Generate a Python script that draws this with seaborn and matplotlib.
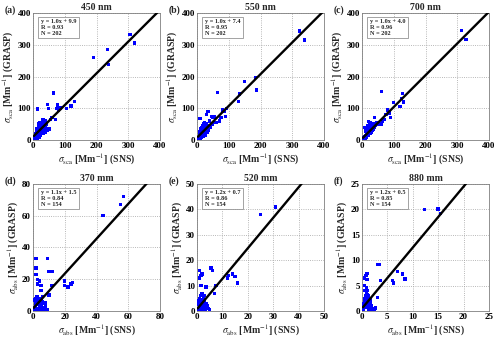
import matplotlib
matplotlib.use("Agg")
import matplotlib.pyplot as plt
import seaborn as sns
import pandas as pd
import numpy as np

sns.set_theme(style="white")
plt.rcParams['font.family'] = ['Liberation Serif', 'DejaVu Serif']
plt.rcParams['mathtext.fontset'] = 'stix'

# ---------------- data ----------------
titles = ["450 nm", "550 nm", "700 nm", "370 mm", "520 mm", "880 mm"]
panel_tags = ["(a)", "(b)", "(c)", "(d)", "(e)", "(f)"]
limits = [400, 400, 400, 80, 50, 25]
tick_steps = [100, 100, 100, 20, 10, 5]
slopes = [1.0, 1.0, 1.0, 1.1, 1.2, 1.2]
intercepts = [9.9, 7.4, 4.0, 1.5, 0.7, 0.5]
r_values = [0.93, 0.95, 0.96, 0.84, 0.86, 0.85]
n_values = [202, 202, 202, 154, 154, 154]

x_450 = [190, 235, 237, 305, 320, 130, 120, 105, 86, 78, 75, 80, 65, 45, 48, 15, 60, 70, 55, 40,
         35, 30, 28, 25, 22, 20, 18, 15, 12, 10, 8, 6, 5, 4, 3, 33, 38, 42, 27, 24, 21, 17, 14, 11, 9,
         26, 31, 36, 29, 23, 19, 16, 13, 7, 44, 50, 39, 34, 32, 20, 18, 25, 30, 12, 10]
y_450 = [260, 285, 237, 333, 305, 121, 107, 100, 101, 110, 100, 95, 148, 112, 100, 98, 70, 65, 65, 60,
         55, 50, 45, 40, 35, 30, 25, 20, 15, 12, 10, 8, 5, 3, 2, 30, 40, 50, 20, 15, 10, 8, 5, 5, 3,
         55, 62, 45, 35, 45, 40, 30, 25, 15, 30, 35, 25, 20, 65, 55, 50, 28, 22, 35, 20]

x_550 = [322, 338, 185, 188, 150, 65, 133, 130, 93, 90, 80, 85, 35, 30, 10, 55, 50, 60, 70, 45,
         40, 25, 20, 18, 15, 12, 10, 8, 6, 5, 4, 3, 22, 28, 33, 38, 17, 14, 11, 9, 7, 24, 30, 20,
         16, 13, 26, 42, 48, 36, 19, 23, 27, 21, 15, 32, 9, 12, 75]
y_550 = [343, 315, 197, 158, 185, 150, 145, 122, 100, 75, 95, 90, 90, 80, 68, 75, 70, 55, 60, 75,
         60, 45, 40, 30, 25, 20, 15, 10, 8, 5, 3, 2, 20, 25, 35, 45, 45, 10, 8, 5, 5, 55, 50, 30,
         20, 35, 15, 40, 50, 30, 12, 35, 40, 50, 40, 25, 25, 30, 70]

x_700 = [313, 328, 62, 128, 120, 125, 130, 100, 90, 80, 75, 70, 55, 40, 45, 35, 30, 25, 22, 20,
         18, 15, 12, 10, 8, 6, 5, 4, 3, 28, 32, 38, 17, 14, 11, 9, 24, 20, 16, 13, 26, 42, 48, 36,
         19, 23, 27, 21, 15, 10, 12, 60, 65, 85]
y_700 = [345, 316, 152, 147, 105, 130, 120, 118, 70, 95, 80, 65, 52, 70, 55, 50, 45, 40, 35, 30,
         25, 20, 15, 12, 10, 8, 5, 3, 2, 25, 30, 40, 45, 10, 8, 5, 50, 40, 20, 35, 20, 45, 50, 35,
         15, 25, 55, 58, 30, 40, 28, 50, 60, 85]

x_370 = [57, 55, 44, 2, 9, 2, 10, 12, 2, 3, 4, 3, 5, 12, 20, 20, 22, 24, 25, 5, 10, 9,
         1, 1.5, 2, 2.5, 3, 3.5, 4, 4.5, 5, 5.5, 6, 6.5, 7, 8, 1, 2, 3, 4, 5, 6, 7, 0.5, 1.5,
         2.5, 3.5, 4.5, 5.5, 3, 4, 2, 6, 7.5, 1, 3, 5]
y_370 = [72, 67, 60, 33, 33, 27, 25, 25, 23, 20, 19, 17, 16, 16, 19, 16, 15, 17, 18, 13, 10, 1,
         2, 3, 5, 4, 6, 7, 5, 3, 8, 4, 6, 2, 5, 3, 0.5, 1, 1.5, 2, 1, 0.5, 1, 7, 8,
         9, 8, 6, 7, 4, 3, 6, 9, 5, 1, 0.5, 2]

x_520 = [31, 25, 1, 5.5, 6, 2, 1.5, 1, 12, 12.5, 14, 15, 16, 1.5, 3.5, 7, 7.5,
         0.5, 1, 1.5, 2, 2.5, 3, 3.5, 4, 0.3, 0.8, 1.2, 1.8, 2.2, 2.8, 3.2, 0.5, 1, 1.5, 2, 2.5,
         3, 4.5, 5, 1, 2, 0.7, 1.3, 1.7, 2.3, 3.8, 0.4]
y_520 = [41, 38, 16, 17, 16, 14.5, 14, 13, 13, 14, 14.5, 13.5, 11, 10, 9.5, 7, 10,
         1, 2, 3, 4, 5, 6, 3, 2, 0.5, 1, 1.5, 2.5, 3.5, 1, 0.5, 4, 5, 6, 7, 2,
         4, 1, 0.5, 0.3, 0.5, 2.5, 4.5, 3, 1.5, 2, 0.2]

x_880 = [12.3, 15, 15.5, 3, 3.5, 3.6, 1, 0.8, 0.5, 1, 7, 8, 8.5, 6, 6.2, 3, 0.5, 0.6, 2.6,
         0.2, 0.4, 0.6, 0.8, 1.0, 1.2, 1.4, 1.6, 1.8, 2.0, 0.3, 0.5, 0.7, 0.9, 1.1, 1.3, 1.5,
         0.4, 0.8, 1.2, 1.6, 2.2, 0.6, 1.0, 1.4, 0.9, 1.1, 0.3, 1.7, 2.4, 1.3]
y_880 = [20, 20.1, 19.2, 9.2, 9.1, 6, 7.4, 7, 6.5, 6.2, 7.8, 7.3, 6.3, 6, 5.5, 2.7, 5, 4, 0.6,
         0.5, 1, 1.5, 2, 2.5, 3, 2, 1.5, 1, 0.5, 0.3, 2, 3, 3.5, 4, 1, 0.5,
         1.5, 0.8, 1.8, 2.2, 0.3, 2.5, 1.2, 0.2, 4.5, 3.2, 0.1, 0.4, 0.3, 2.8]

xs = [x_450, x_550, x_700, x_370, x_520, x_880]
ys = [y_450, y_550, y_700, y_370, y_520, y_880]
kinds = ["sca", "sca", "sca", "abs", "abs", "abs"]

# ---------------- layout ----------------
fig = plt.figure(figsize=(5.0, 3.41), dpi=100)
lefts = [0.066, 0.394, 0.724]
bottoms = [0.5894, 0.088]
w, h = 0.254, 0.3724

for i in range(6):
    r, c = divmod(i, 3)
    ax = fig.add_axes([lefts[c], bottoms[r], w, h])
    lim = limits[i]
    df = pd.DataFrame({"x": xs[i], "y": ys[i]})
    sns.scatterplot(data=df, x="x", y="y", ax=ax, marker="s", s=6, color="#0000ff",
                    edgecolor="none", linewidth=0, zorder=3)
    xl = [min(xs[i]), lim]
    yl = [slopes[i] * v + intercepts[i] for v in xl]
    sns.lineplot(x=xl, y=yl, ax=ax, color="black", linewidth=1.7, zorder=4)
    ax.set_xlim(0, lim)
    ax.set_ylim(0, lim)
    ticks = np.arange(0, lim + 0.1, tick_steps[i])
    ax.set_xticks(ticks)
    ax.set_yticks(ticks)
    ax.set_xticklabels([f"{int(t)}" for t in ticks], fontsize=6.5, fontweight="bold")
    ax.set_yticklabels([f"{int(t)}" for t in ticks], fontsize=6.5, fontweight="bold")
    ax.tick_params(axis="both", direction="in", length=2, width=0.5, pad=1.5, colors="black")
    ax.grid(True, linestyle=":", color="#a0a0a0", linewidth=0.6)
    for s in ax.spines.values():
        s.set_color("#7f7f7f")
        s.set_linewidth(0.6)
    k = kinds[i]
    ax.set_xlabel(r"$\sigma_{\rm " + k + r"}$ [Mm$^{-1}$] (SNS)", fontsize=7,
                  fontweight="bold", labelpad=1)
    ax.set_ylabel(r"$\sigma_{\rm " + k + r"}$ [Mm$^{-1}$] (GRASP)", fontsize=7,
                  fontweight="bold", labelpad=1)
    ax.set_title(titles[i], fontsize=7, fontweight="bold", pad=2)
    ax.text(-0.225, 1.025, panel_tags[i], transform=ax.transAxes, fontsize=7,
            fontweight="bold", ha="left", va="center")
    txt = f"y = {slopes[i]:.1f}x + {intercepts[i]:.1f}\nR = {r_values[i]:.2f}\nN = {n_values[i]}"
    ax.text(0.06, 0.95, txt, transform=ax.transAxes, fontsize=4.5, fontweight="bold",
            ha="left", va="top", linespacing=1.2, zorder=5,
            bbox=dict(boxstyle="square,pad=0.4", fc="white", ec="#7f7f7f", lw=0.5))

fig.savefig("out.png", dpi=100)
